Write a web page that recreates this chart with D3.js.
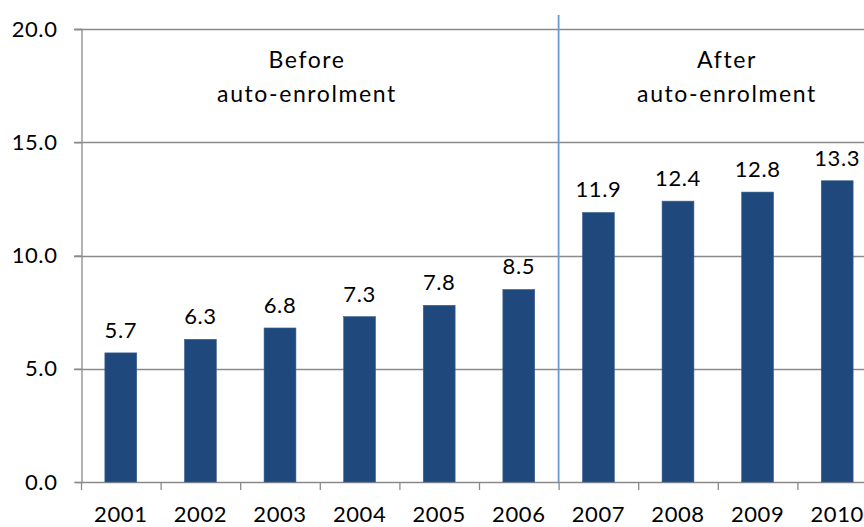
<!DOCTYPE html>
<html><head><meta charset="utf-8">
<script src="https://cdn.jsdelivr.net/npm/d3@7"></script>
<style>html,body{margin:0;padding:0;background:#fff;}svg{display:block;}</style>
</head><body><svg id="c" width="864" height="527"></svg>
<script>
const years = ["2001","2002","2003","2004","2005","2006","2007","2008","2009","2010"];
const values = [5.7, 6.3, 6.8, 7.3, 7.8, 8.5, 11.9, 12.4, 12.8, 13.3];
const yTicks = [0, 5, 10, 15, 20];
const periodLabels = [["Before","auto-enrolment"],["After","auto-enrolment"]];

(function(){
const svg = d3.select("#c");
const font = "Lato, 'Open Sans', sans-serif";
const numSize = 22, numSpacing = 0.6;
const mLeft = 81, mRight = 877, mTop = 29, mBottom = 482;
const x = d3.scaleBand().domain(years).range([mLeft, mRight]).paddingInner(0.6).paddingOuter(0.3);
const y = d3.scaleLinear().domain([0, 20]).range([mBottom, mTop]);
const grey = "#8a8a8a";

// gridlines
svg.append("g").selectAll("line").data(yTicks.filter(d => d > 0)).join("line")
  .attr("x1", mLeft - 7).attr("x2", 864)
  .attr("y1", d => Math.round(y(d)) + 0.5).attr("y2", d => Math.round(y(d)) + 0.5)
  .attr("stroke", grey).attr("stroke-width", 1.3);

// y axis
const yAxis = d3.axisLeft(y).tickValues(yTicks).tickFormat(d3.format(".1f")).tickSize(7).tickPadding(17);
const gy = svg.append("g").attr("transform", `translate(${mLeft + 0.5},0)`).call(yAxis);
gy.select(".domain").attr("stroke", grey).attr("stroke-width", 1.3);
gy.selectAll(".tick line").attr("stroke", grey).attr("stroke-width", 1.3);
gy.selectAll(".tick text").attr("font-family", font).attr("font-size", numSize)
  .attr("letter-spacing", numSpacing).attr("fill", "#000");

// x axis with ticks at category boundaries
const xAxis = d3.axisBottom(x).tickSize(0).tickPadding(24);
const gx = svg.append("g").attr("transform", `translate(0,${mBottom + 0.5})`).call(xAxis);
gx.select(".domain").remove();
gx.selectAll(".tick text").attr("font-family", font).attr("font-size", numSize)
  .attr("letter-spacing", numSpacing).attr("fill", "#000");
svg.append("line").attr("x1", mLeft).attr("x2", 864).attr("y1", mBottom + 0.5).attr("y2", mBottom + 0.5)
  .attr("stroke", grey).attr("stroke-width", 1.3);
const step = x.step();
svg.append("g").selectAll("line").data(d3.range(years.length + 1)).join("line")
  .attr("x1", i => mLeft + 0.5 + i * step).attr("x2", i => mLeft + 0.5 + i * step)
  .attr("y1", mBottom).attr("y2", mBottom + 8)
  .attr("stroke", grey).attr("stroke-width", 1.3);

// bars
svg.append("g").selectAll("rect").data(years).join("rect")
  .attr("x", d => x(d)).attr("width", x.bandwidth())
  .attr("y", (d, i) => y(values[i])).attr("height", (d, i) => mBottom - y(values[i]))
  .attr("fill", "#1f497d").attr("stroke", "#3c5f8f").attr("stroke-width", 0.6);

// value labels
svg.append("g").selectAll("text").data(years).join("text")
  .attr("x", d => x(d) + x.bandwidth() / 2).attr("y", (d, i) => y(values[i]) - 15)
  .attr("text-anchor", "middle").attr("font-family", font).attr("font-size", numSize)
  .attr("letter-spacing", numSpacing).attr("fill", "#000")
  .text((d, i) => values[i].toFixed(1));

// separator
const sepX = mLeft + 6 * step;
svg.append("line").attr("x1", sepX).attr("x2", sepX).attr("y1", 15).attr("y2", mBottom)
  .attr("stroke", "#6f98cf").attr("stroke-width", 1.8);

// period labels
const centers = [307, 727];
periodLabels.forEach((lines, k) => {
  const t = svg.append("text").attr("text-anchor", "middle").attr("font-family", font)
    .attr("font-size", 23).attr("letter-spacing", 1.6).attr("fill", "#000");
  lines.forEach((ln, j) => t.append("tspan").attr("x", centers[k]).attr("y", 68 + j * 34).text(ln));
});
})();
</script></body></html>
